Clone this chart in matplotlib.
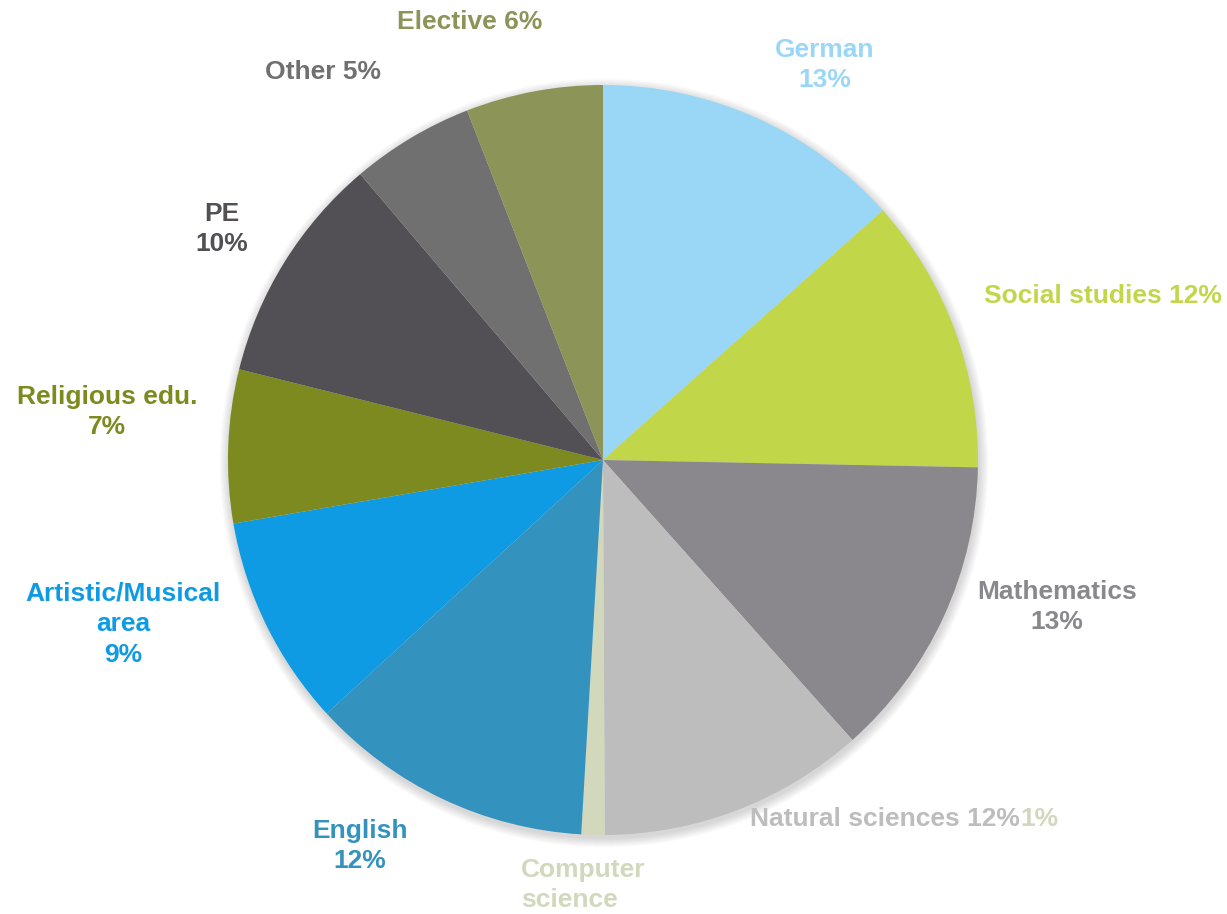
import matplotlib.pyplot as plt
from matplotlib.patches import Circle

# slice shares in %, clockwise from 12 o'clock
subjects = ["German", "Social studies", "Mathematics", "Natural sciences",
            "Computer science", "English", "Artistic/Musical area",
            "Religious edu.", "PE", "Other", "Elective"]
shares = [13.4, 11.9, 13.1, 11.5, 1.0, 12.25, 9.1, 6.6, 9.9, 5.3, 5.9]
pct_labels = ["13%", "12%", "13%", "12%", "1%", "12%", "9%", "7%", "10%", "5%", "6%"]
colors = ["#9AD7F6", "#C2D64A", "#8A888C", "#BDBDBD", "#D2D8BC", "#3492BE",
          "#0E9BE3", "#7D8A1F", "#525055", "#707070", "#8C9458"]

W, H = 1227, 914
fig = plt.figure(figsize=(W / 100, H / 100), dpi=100)
ax = fig.add_axes([0, 0, 1, 1])

cx, cy, r = 603, H - 460, 375

# soft shadow under the pie
for i in range(8):
    ax.add_patch(Circle((cx + 1, cy - 3), r + 1 + i * 1.2, color="black",
                        alpha=0.018, lw=0, zorder=0))

ax.pie(shares, colors=colors, startangle=90, counterclock=False,
       center=(cx, cy), radius=r, frame=True,
       wedgeprops=dict(linewidth=0))
ax.set_xlim(0, W)
ax.set_ylim(0, H)
ax.set_aspect("equal")
ax.axis("off")

plt.rcParams["font.family"] = ["Liberation Sans", "DejaVu Sans"]
fs = 19
ls = 1.35
kw = dict(fontsize=fs, fontweight="bold", ha="center", va="center")

def put(x, y, s, c, **extra):
    d = dict(kw)
    d.update(extra)
    return ax.text(x, H - y, s, color=c, **d)

put(825, 65, subjects[0] + "\n" + pct_labels[0], colors[0], linespacing=ls)
put(1103, 296, subjects[1] + " " + pct_labels[1], colors[1])
put(1057, 607, subjects[2] + "\n" + pct_labels[2], colors[2], linespacing=ls)
t = put(750, 819, subjects[3] + " " + pct_labels[3], colors[3], ha="left")
fig.canvas.draw()
bb = t.get_window_extent().transformed(ax.transData.inverted())
put(bb.x1, 819, pct_labels[4], colors[4], ha="left")
put(521, 885, "Computer\nscience", colors[4], ha="left", linespacing=ls)
put(360, 846, subjects[5] + "\n" + pct_labels[5], colors[5], linespacing=ls)
put(123, 624, "Artistic/Musical\narea\n" + pct_labels[6], colors[6], linespacing=ls)
put(107, 412, subjects[7] + "\n" + pct_labels[7], colors[7], linespacing=ls)
put(222, 229, subjects[8] + "\n" + pct_labels[8], colors[8], linespacing=ls)
put(323, 72, subjects[9] + " " + pct_labels[9], colors[9])
put(470, 22, subjects[10] + " " + pct_labels[10], colors[10])

fig.savefig("out.png", dpi=100)
